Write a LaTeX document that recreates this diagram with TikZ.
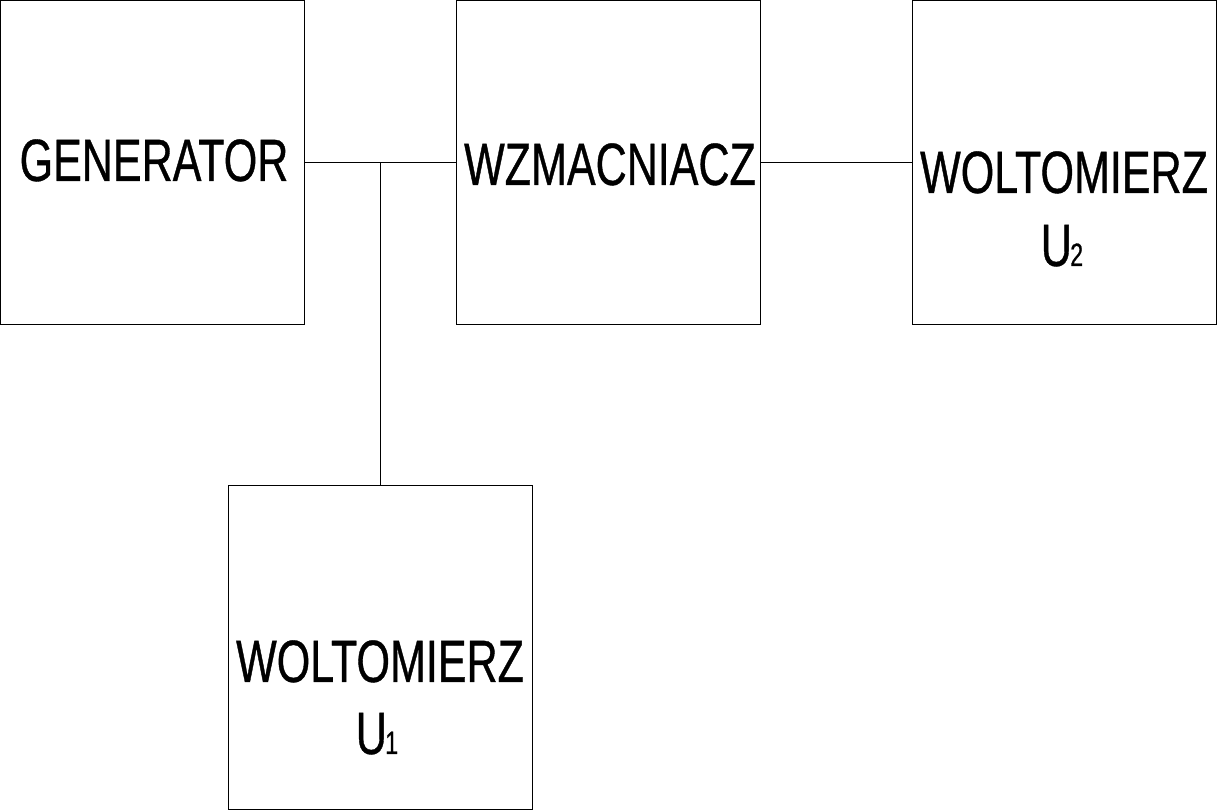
\documentclass[tikz,border=0pt]{standalone}
\usepackage{fontspec}
\newfontfamily\narrowfont[FakeStretch=0.72,FakeBold=0.6]{Liberation Sans}
\begin{document}
\begin{tikzpicture}[x=0.01cm,y=-0.01cm,
  blk/.style={draw,line width=0.3pt,minimum width=3.04cm,minimum height=3.24cm,inner sep=0pt},
  lbl/.style={anchor=base,inner sep=0pt,font=\narrowfont\fontsize{17pt}{20pt}\selectfont},
  conn/.style={line width=0.3pt}]
\useasboundingbox (0,0) rectangle (1217,810);
\node[blk] (gen) at (152.5,162.5) {};
\node[blk] (amp) at (608.5,162.5) {};
\node[blk] (u2) at (1064.5,162.5) {};
\node[blk,minimum height=3.23cm] (u1) at (380.5,647.5) {};
\node[lbl] (tgen) at (154,181) {GENERATOR};
\node[lbl] (tamp) at (610,185) {WZMACNIACZ};
\node[lbl] (tu2a) at (1064,193) {WOLTOMIERZ};
\node[lbl] (tu2b) at (1062,266) {U\kern-0.5pt{\fontsize{9.2pt}{10pt}\selectfont 2}};
\node[lbl] (tu1a) at (380,682) {WOLTOMIERZ};
\node[lbl] (tu1b) at (377,754) {U\kern-0.5pt{\fontsize{9.2pt}{10pt}\selectfont 1}};
\coordinate (j) at (380.5,162.5);
\draw[conn] (gen.east) -- (amp.west);
\draw[conn] (j) -- (u1.north);
\draw[conn] (amp.east) -- (u2.west);
\end{tikzpicture}
\end{document}
